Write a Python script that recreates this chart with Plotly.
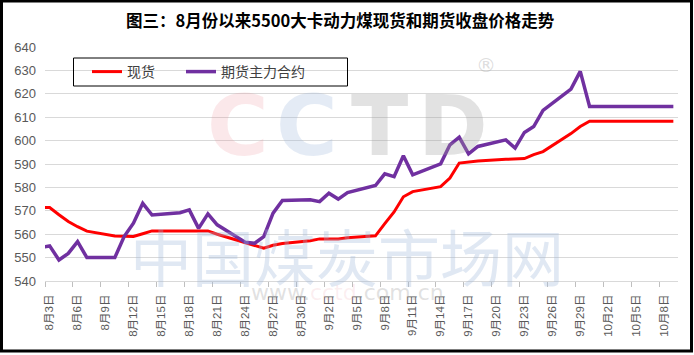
import plotly.graph_objects as go
import pandas as pd

# ---- data ----
dates = [
    "2020-07-31", "2020-08-03", "2020-08-04", "2020-08-05", "2020-08-06", "2020-08-07",
    "2020-08-10", "2020-08-11", "2020-08-12", "2020-08-13", "2020-08-14",
    "2020-08-17", "2020-08-18", "2020-08-19", "2020-08-20", "2020-08-21",
    "2020-08-24", "2020-08-25", "2020-08-26", "2020-08-27", "2020-08-28",
    "2020-08-31", "2020-09-01", "2020-09-02", "2020-09-03", "2020-09-04",
    "2020-09-07", "2020-09-08", "2020-09-09", "2020-09-10", "2020-09-11",
    "2020-09-14", "2020-09-15", "2020-09-16", "2020-09-17", "2020-09-18",
    "2020-09-21", "2020-09-22", "2020-09-23", "2020-09-24", "2020-09-25",
    "2020-09-28", "2020-09-29", "2020-09-30", "2020-10-09",
]
spot = [
    571.4, 571.4, 568.3, 565.4, 563.2, 561.3,
    559.2, 559.0, 559.0, 560.2, 561.4,
    561.4, 561.4, 561.4, 561.4, 560.0,
    556.5, 555.0, 554.0, 555.3, 556.0,
    557.2, 558.0, 558.0, 558.0, 558.5,
    559.3, 564.5, 569.5, 576.0, 578.2,
    580.3, 584.0, 590.4, 591.0, 591.3,
    592.0, 592.3, 592.3, 594.0, 595.3,
    603.0, 606.0, 608.3, 608.3,
]
futures = [
    553.0, 555.0, 549.0, 551.8, 556.8, 550.0,
    550.0, 559.0, 564.7, 573.2, 568.2,
    569.2, 570.4, 562.5, 568.7, 564.0,
    556.6, 556.1, 559.0, 569.0, 574.4,
    574.7, 573.9, 577.5, 575.0, 577.8,
    580.8, 585.8, 584.6, 593.5, 585.4,
    590.1, 598.2, 601.5, 594.3, 597.5,
    600.3, 596.8, 603.5, 606.0, 612.9,
    622.0, 629.6, 614.6, 614.6,
]
series_names = ["现货", "期货主力合约"]
tick_dates = [
    "2020-08-03", "2020-08-06", "2020-08-09", "2020-08-12", "2020-08-15", "2020-08-18",
    "2020-08-21", "2020-08-24", "2020-08-27", "2020-08-30", "2020-09-02", "2020-09-05",
    "2020-09-08", "2020-09-11", "2020-09-14", "2020-09-17", "2020-09-20", "2020-09-23",
    "2020-09-26", "2020-09-29", "2020-10-02", "2020-10-05", "2020-10-08",
]
tick_labels = [
    "8月3日", "8月6日", "8月9日", "8月12日", "8月15日", "8月18日",
    "8月21日", "8月24日", "8月27日", "8月30日", "9月2日", "9月5日",
    "9月8日", "9月11日", "9月14日", "9月17日", "9月20日", "9月23日",
    "9月26日", "9月29日", "10月2日", "10月5日", "10月8日",
]
y_ticks = [540, 550, 560, 570, 580, 590, 600, 610, 620, 630, 640]
title_text = "图三：8月份以来5500大卡动力煤现货和期货收盘价格走势"

# ---- geometry ----
W, H = 694, 355
ML, MR, MT, MB = 45, 16, 47, 74
PW, PH = W - ML - MR, H - MT - MB


def px_x(px):
    return (px - ML) / PW


def px_y(py):
    return (H - MB - py) / PH


boundaries = [(pd.Timestamp(d) - pd.Timedelta(hours=12)).strftime("%Y-%m-%d %H:%M") for d in tick_dates]

FONT = "Liberation Sans, Arial, Noto Sans CJK SC, sans-serif"
LEG_FONT = dict(family="Noto Sans CJK SC, sans-serif", size=14, color="#404040")

fig = go.Figure()
fig.add_trace(go.Scatter(x=dates, y=spot, name=series_names[0], mode="lines",
                         line=dict(color="#FF0000", width=3), legend="legend"))
fig.add_trace(go.Scatter(x=dates, y=futures, name=series_names[1], mode="lines",
                         line=dict(color="#7030A0", width=3.5), legend="legend2"))

annotations = [
    dict(text="<b>" + title_text + "</b>", xref="paper", yref="paper",
         x=px_x(340.5), y=px_y(20), xanchor="center", yanchor="middle", showarrow=False,
         font=dict(family="Noto Sans CJK SC, sans-serif", size=16.5, color="#000000")),
]
# faint watermark
wm = [("C", 238, "rgba(235,140,150,0.20)"), ("C", 307, "rgba(150,178,215,0.26)"),
      ("T", 379, "rgba(160,160,160,0.30)"), ("D", 453, "rgba(160,160,160,0.30)")]
for ch, cx, col in wm:
    annotations.append(dict(text="<b>" + ch + "</b>", xref="paper", yref="paper", x=px_x(cx), y=px_y(126),
                            xanchor="center", yanchor="middle", showarrow=False,
                            font=dict(family="DejaVu Sans", size=84, color=col)))
annotations.append(dict(text="®", xref="paper", yref="paper", x=px_x(486), y=px_y(65),
                        xanchor="center", yanchor="middle", showarrow=False,
                        font=dict(family="DejaVu Sans", size=20, color="rgba(170,170,170,0.4)")))
annotations.append(dict(text="中国煤炭市场网", xref="paper", yref="paper", x=px_x(347), y=px_y(255),
                        xanchor="center", yanchor="middle", showarrow=False,
                        font=dict(family="Noto Sans CJK SC", size=62, color="rgba(160,185,220,0.33)")))
annotations.append(dict(text="www.<span style='color:rgba(235,150,160,0.45)'>cctd</span>.com.cn",
                        xref="paper", yref="paper", x=px_x(347), y=px_y(292),
                        xanchor="center", yanchor="middle", showarrow=False,
                        font=dict(family="DejaVu Sans", size=22, color="rgba(170,170,170,0.35)")))

shapes = [
    # legend box
    dict(type="rect", xref="paper", yref="paper", x0=px_x(73.5), x1=px_x(347.5), y0=px_y(86), y1=px_y(58),
         line=dict(color="#000000", width=1), fillcolor="rgba(255,255,255,0)"),
    # outer frame
    dict(type="rect", xref="paper", yref="paper", x0=px_x(1.5), x1=px_x(691.5), y0=px_y(351), y1=px_y(1),
         line=dict(color="#000000", width=3), fillcolor="rgba(0,0,0,0)"),
]

leg_common = dict(orientation="h", yanchor="middle", xanchor="left",
                  bgcolor="rgba(0,0,0,0)", borderwidth=0, font=LEG_FONT)

fig.update_layout(
    width=W, height=H,
    margin=dict(l=ML, r=MR, t=MT, b=MB),
    paper_bgcolor="white", plot_bgcolor="white",
    font=dict(family=FONT, color="#595959"),
    showlegend=True,
    legend=dict(x=px_x(87), y=px_y(72), **leg_common),
    legend2=dict(x=px_x(181), y=px_y(72), **leg_common),
    xaxis=dict(type="date", range=["2020-08-02 12:00", "2020-10-09 12:00"],
               tickmode="array", tickvals=tick_dates, ticktext=tick_labels,
               tickangle=-90, ticks="", showgrid=False, zeroline=False,
               showline=True, linecolor="#d9d9d9", linewidth=1,
               ticklabelstandoff=8,
               tickfont=dict(family="Liberation Sans, Noto Sans CJK SC", size=11.5, color="#595959"),
               minor=dict(tickmode="array", tickvals=boundaries, ticks="outside", ticklen=5,
                          tickcolor="#bfbfbf", tickwidth=1, showgrid=False)),
    yaxis=dict(range=[540, 640], tickmode="array", tickvals=y_ticks,
               showgrid=True, gridcolor="#d9d9d9", gridwidth=1, zeroline=False,
               showline=False, ticks="", ticklabelstandoff=8,
               tickfont=dict(family="Liberation Sans", size=13, color="#595959")),
    annotations=annotations,
    shapes=shapes,
)

fig.write_html("out.html", config={"displayModeBar": False},
               post_script="document.body.style.margin='0';")
